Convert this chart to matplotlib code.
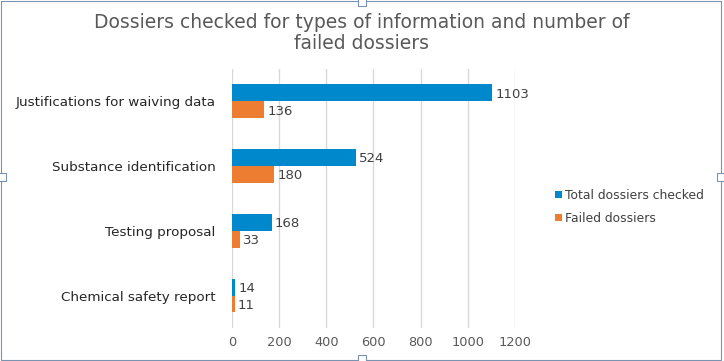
import numpy as np
import matplotlib.pyplot as plt
from matplotlib.patches import Rectangle

# data ------------------------------------------------------------------------
categories = ["Justifications for waiving data", "Substance identification",
              "Testing proposal", "Chemical safety report"]
total_checked = [1103, 524, 168, 14]
failed = [136, 180, 33, 11]
series_names = ["Total dossiers checked", "Failed dossiers"]
x_ticks = [0, 200, 400, 600, 800, 1000, 1200]

blue = '#0088CC'
orange = '#ED7D31'
txt = '#404040'

fig = plt.figure(figsize=(7.24, 3.61), dpi=100)
ax = fig.add_axes([0.3204, 0.0914, 0.3909, 0.7176])

y = np.arange(len(categories))
h = 0.26
b1 = ax.barh(y - h / 2, total_checked, height=h, color=blue, label=series_names[0], zorder=3)
b2 = ax.barh(y + h / 2, failed, height=h, color=orange, label=series_names[1], zorder=3)

for bars, vals in [(b1, total_checked), (b2, failed)]:
    for bar, v in zip(bars, vals):
        ax.text(bar.get_width() + 14, bar.get_y() + bar.get_height() / 2 + 0.02, str(v),
                va='center', ha='left', fontsize=9.5, color=txt)

ax.set_ylim(len(categories) - 0.5, -0.5)
ax.set_xlim(0, 1200)
ax.set_xticks(x_ticks)
ax.set_yticks(y)
ax.set_yticklabels(categories, fontsize=9.7, color='#262626')
ax.tick_params(axis='x', labelsize=9.3, labelcolor='#595959', length=0, pad=6)
ax.tick_params(axis='y', length=0, pad=12)
ax.grid(axis='x', color='#D9D9D9', linewidth=1, zorder=0)
for s in ax.spines.values():
    s.set_visible(False)

fig.suptitle("Dossiers checked for types of information and number of\nfailed dossiers",
             x=0.5, y=0.965, fontsize=13.5, color='#595959', linespacing=1.15)

leg = fig.legend(handles=[b1, b2], loc='upper left', bbox_to_anchor=(0.751, 0.508),
                 frameon=False, fontsize=8.9, handlelength=0.55, handleheight=0.55,
                 handletextpad=0.3, labelspacing=0.8)
for t in leg.get_texts():
    t.set_color(txt)

# chart frame with selection handles
fig.patches.append(Rectangle((0.002, 0.004), 0.994, 0.992, transform=fig.transFigure,
                             fill=False, edgecolor='#7A93B0', linewidth=0.8))
for hx, hy in [(0.5, 0.996), (0.5, 0.004), (0.002, 0.51), (0.996, 0.51)]:
    fig.patches.append(Rectangle((hx - 0.006, hy - 0.012), 0.012, 0.024,
                                 transform=fig.transFigure, facecolor='white',
                                 edgecolor='#7A93B0', linewidth=0.8))

plt.savefig('out.png', dpi=100)
